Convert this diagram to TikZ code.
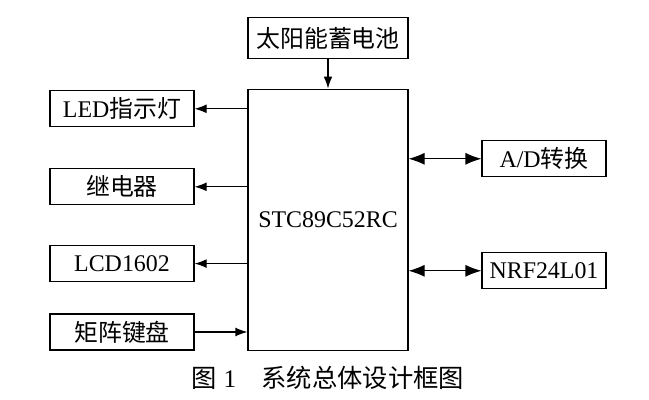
\documentclass[tikz,border=0pt]{standalone}
\usepackage{fontspec}
\setmainfont{Liberation Serif}
\newfontfamily\cjk{Noto Sans CJK SC}
\usetikzlibrary{arrows.meta,positioning}

\begin{document}
\begin{tikzpicture}[
  blk/.style={draw, line width=0.8pt, inner sep=0pt, font=\fontsize{17}{20}\selectfont, align=center},
  link/.style={line width=0.8pt, -{Latex[length=3mm,width=2.2mm]}},
  duplex/.style={line width=0.8pt, {Latex[length=4mm,width=3mm]}-{Latex[length=4mm,width=3mm]}}
]
  \useasboundingbox (0,0) rectangle (16.225,10);

  % MCU and supply
  \node[blk, minimum width=4cm, minimum height=6.525cm] (mcu) at (8.2,4.51) {STC89C52RC};
  \node[blk, minimum width=4cm, minimum height=1.025cm] (solar) at (8.2,9.04) {\cjk 太阳能蓄电池};
  \draw[link] (solar) -- (mcu);

  % left side peripherals
  \node[blk, minimum width=3.6cm, minimum height=0.9cm] (led) at (3.05,7.28) {LED\cjk 指示灯};
  \node[blk, minimum width=3.6cm, minimum height=0.9cm] (relay) at (3.05,5.33) {\cjk 继电器};
  \node[blk, minimum width=3.6cm, minimum height=0.9cm] (lcd) at (3.05,3.41) {LCD1602};
  \node[blk, minimum width=3.6cm, minimum height=0.9cm] (keypad) at (3.05,1.7) {\cjk 矩阵键盘};

  \draw[link] (mcu.west |- led) -- (led);
  \draw[link] (mcu.west |- relay) -- (relay);
  \draw[link] (mcu.west |- lcd) -- (lcd);
  \draw[link] (keypad) -- (mcu.west |- keypad);

  % right side peripherals
  \node[blk, minimum width=3.1cm, minimum height=0.9cm] (adc) at (13.6,6.03) {A/D\cjk 转换};
  \node[blk, minimum width=3.1cm, minimum height=0.9cm] (nrf) at (13.6,3.23) {NRF24L01};

  \draw[duplex] (mcu.east |- adc) -- (adc);
  \draw[duplex] (mcu.east |- nrf) -- (nrf);

  \node[font=\fontsize{18}{20}\selectfont] (caption) at (8.2,0.55) {{\cjk 图}~1\quad{\cjk 系统总体设计框图}};
\end{tikzpicture}
\end{document}
